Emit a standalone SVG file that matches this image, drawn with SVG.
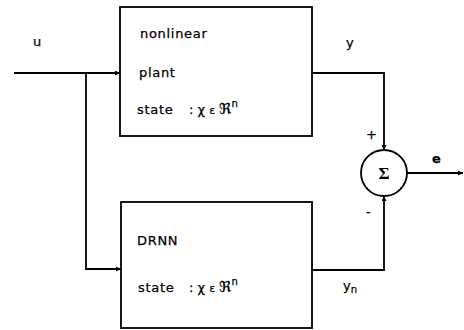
<svg xmlns="http://www.w3.org/2000/svg" width="464" height="330" viewBox="0 0 464 330">
<style>
.box{fill:#fff;stroke:#000;stroke-width:1.8}
.ln{fill:none;stroke:#000;stroke-width:1.8}
.t{font-family:"DejaVu Sans","Liberation Sans",sans-serif;font-size:13px;letter-spacing:0.7px;fill:#000;stroke:#000;stroke-width:0.25}
.s{font-family:"DejaVu Sans","Liberation Sans",sans-serif;font-size:13px;fill:#000;stroke:#000;stroke-width:0.25}
.sig{font-family:"Liberation Serif","DejaVu Serif",serif;font-size:17px;font-weight:bold;fill:#000}
</style>
<defs>
<marker id="ah" viewBox="0 0 10 10" refX="10" refY="5" markerWidth="7" markerHeight="5" markerUnits="userSpaceOnUse" orient="auto">
<path d="M0,0 L10,5 L0,10 z" fill="#000"/>
</marker>
</defs>
<g id="connectors">
<path class="ln" d="M14,73 H120" marker-end="url(#ah)"/>
<path class="ln" d="M86,73 V269 H121" marker-end="url(#ah)"/>
<path class="ln" d="M312,73 H384 V150" marker-end="url(#ah)"/>
<path class="ln" d="M312,270 H384 V196" marker-end="url(#ah)"/>
<path class="ln" d="M407,173 H463" marker-end="url(#ah)"/>
</g>
<g id="plant">
<rect class="box" x="120" y="7" width="192" height="129"/>
<text class="t" x="140" y="38">nonlinear</text>
<text class="t" x="139" y="77">plant</text>
<text class="t" x="137" y="114">state</text>
<text class="s" x="189" y="114">: χ <tspan font-size="11">ε</tspan> <tspan font-size="15">ℜ</tspan><tspan dy="-7" font-size="10">n</tspan></text>
</g>
<g id="drnn">
<rect class="box" x="121" y="202" width="191" height="126"/>
<text class="t" x="137" y="245">DRNN</text>
<text class="t" x="138" y="292">state</text>
<text class="s" x="189" y="292">: χ <tspan font-size="11">ε</tspan> <tspan font-size="15">ℜ</tspan><tspan dy="-7" font-size="10">n</tspan></text>
</g>
<g id="sum">
<circle cx="384" cy="173" r="23" fill="#fff" stroke="#000" stroke-width="1.8"/>
<text class="sig" x="384" y="179" text-anchor="middle">Σ</text>
</g>
<g id="labels">
<text class="s" x="33" y="46">u</text>
<text class="s" x="346" y="47">y</text>
<text class="s" x="366" y="139" font-size="10">+</text>
<text class="s" x="366" y="216">-</text>
<text class="s" x="432" y="163" font-weight="bold">e</text>
<text class="s" x="343" y="290">y<tspan dy="3" font-size="10">n</tspan></text>
</g>
</svg>
